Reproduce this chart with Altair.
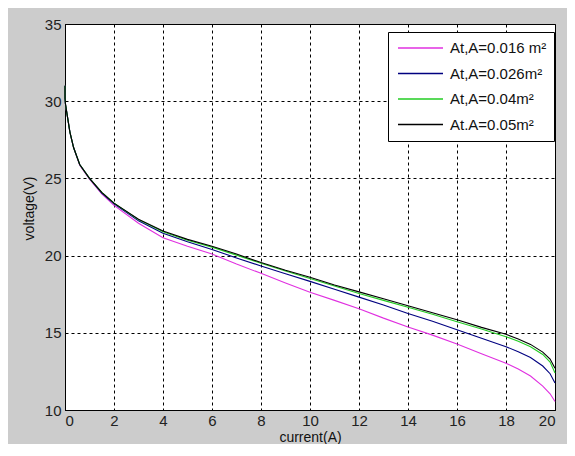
import altair as alt
import pandas as pd

# ---- data ----
current = [0, 0, 0.02, 0.08, 0.2, 0.35, 0.6, 1, 1.5, 2, 3, 4, 5, 6, 7, 8, 9, 10,
           11, 12, 13, 14, 15, 16, 17, 18, 18.5, 19, 19.5, 19.8, 20]

v_016 = [31.0, 30.2, 29.8, 29.2, 28.0, 27.0, 25.85, 24.95, 24.0, 23.25, 22.1, 21.15,
         20.6, 20.1, 19.45, 18.85, 18.22, 17.63, 17.1, 16.56, 15.95, 15.38, 14.85,
         14.27, 13.65, 13.03, 12.65, 12.2, 11.55, 11.05, 10.55]
v_026 = [31.0, 30.2, 29.8, 29.2, 28.0, 27.0, 25.9, 25.0, 24.05, 23.35, 22.25, 21.45,
         20.9, 20.4, 19.85, 19.33, 18.83, 18.33, 17.82, 17.31, 16.8, 16.25, 15.75,
         15.2, 14.65, 14.1, 13.78, 13.4, 12.85, 12.35, 11.75]
v_04 = [31.0, 30.2, 29.8, 29.2, 28.0, 27.0, 25.9, 25.0, 24.1, 23.4, 22.33, 21.55,
        21.0, 20.55, 20.03, 19.5, 19.0, 18.52, 18.03, 17.55, 17.1, 16.65, 16.2,
        15.72, 15.25, 14.75, 14.45, 14.1, 13.6, 13.1, 12.4]
v_05 = [31.0, 30.2, 29.8, 29.2, 28.0, 27.0, 25.9, 25.0, 24.1, 23.4, 22.35, 21.6,
        21.05, 20.6, 20.1, 19.55, 19.05, 18.6, 18.1, 17.65, 17.2, 16.75, 16.3,
        15.85, 15.35, 14.9, 14.6, 14.25, 13.75, 13.3, 12.7]

series_names = ["At,A=0.016 m\u00b2", "At,A=0.026m\u00b2", "At,A=0.04m\u00b2", "At.A=0.05m\u00b2"]
series_values = [v_016, v_026, v_04, v_05]
series_colors = ["#e030e0", "#000080", "#22cc22", "#000000"]

rows = []
for name, vals in zip(series_names, series_values):
    for i, (x, y) in enumerate(zip(current, vals)):
        rows.append({"current": x, "voltage": y, "series": name, "idx": i})
df = pd.DataFrame(rows)

chart = alt.Chart(df).mark_line(strokeWidth=1.1).encode(
    x=alt.X("current:Q", title="current(A)",
            scale=alt.Scale(domain=[0, 20], nice=False),
            axis=alt.Axis(values=list(range(0, 21, 2)), format="d")),
    y=alt.Y("voltage:Q", title="voltage(V)",
            scale=alt.Scale(domain=[10, 35], nice=False),
            axis=alt.Axis(values=list(range(10, 36, 5)), format="d", titleY=184)),
    color=alt.Color("series:N", sort=series_names,
                    scale=alt.Scale(domain=series_names, range=series_colors),
                    legend=alt.Legend(
                        title=None, orient="none", legendX=323, legendY=8,
                        symbolType="stroke", symbolSize=2025, symbolStrokeWidth=1.3,
                        clipHeight=18, rowPadding=7.5, labelOffset=6,
                        labelFontSize=15, labelFont="Liberation Sans", labelColor="#111",
                        padding=7, strokeColor="black", fillColor="white",
                        symbolOffset=2)),
    order=alt.Order("idx:Q"),
).properties(
    width=490, height=386,
    autosize=alt.AutoSizeParams(type="none"),
    padding={"left": 57, "top": 16, "right": 12, "bottom": 34},
    background="#cccccc",
).configure_view(
    fill="white", stroke="black", strokeWidth=1
).configure_axis(
    grid=True, gridColor="black", gridDash=[3, 3], gridOpacity=1, gridWidth=1,
    domainColor="black", domainWidth=1,
    ticks=False, labelPadding=4,
    labelFont="Liberation Sans", labelFontSize=15, labelColor="#222",
    titleFont="Liberation Sans", titleFontSize=14, titleFontWeight="normal",
    titleColor="#111",
).configure_axisX(
    labelPadding=3, titlePadding=2
).configure_axisY(
    titlePadding=8
)

chart.save("out.html", embed_options={"renderer": "svg", "actions": False})
